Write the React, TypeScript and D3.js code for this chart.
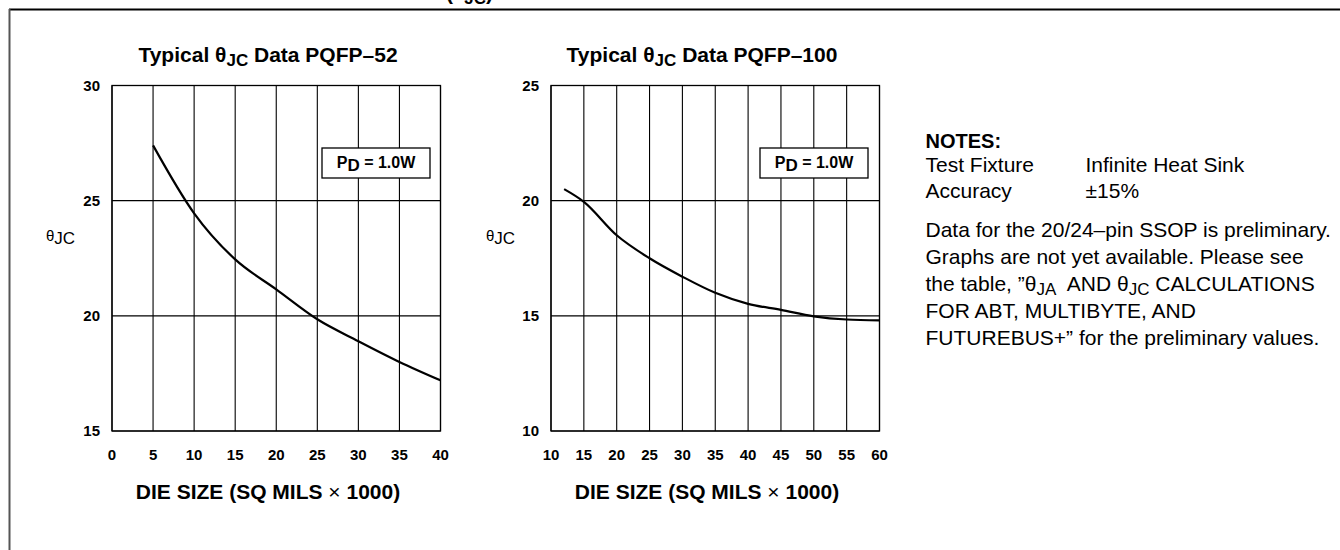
import React, { useRef, useEffect } from 'react';
import * as d3 from 'd3';

// PQFP-52 chart
const die52 = [5, 10, 15, 20, 25, 30, 35, 40];
const theta52 = [27.4, 24.45, 22.45, 21.15, 19.85, 18.9, 18.0, 17.2];
const xTicks52 = [0, 5, 10, 15, 20, 25, 30, 35, 40];
const yTicks52 = [15, 20, 25, 30];

// PQFP-100 chart
const die100 = [12, 15, 20, 25, 30, 35, 40, 45, 50, 55, 60];
const theta100 = [20.5, 19.95, 18.5, 17.5, 16.7, 16.0, 15.52, 15.26, 14.98, 14.84, 14.8];
const xTicks100 = [10, 15, 20, 25, 30, 35, 40, 45, 50, 55, 60];
const yTicks100 = [10, 15, 20, 25];

const noteRows = [
  ['Test Fixture', 'Infinite Heat Sink'],
  ['Accuracy', '\u00b115%'],
];

const FONT = '"Liberation Sans", Arial, Helvetica, sans-serif';

interface PanelSpec {
  title: string;
  titleX: number;
  xs: number[];
  ys: number[];
  xTicks: number[];
  yTicks: number[];
  left: number;
  right: number;
  boxX: number;
  labelX: number;
  axisTitleX: number;
}

const App: React.FC = () => {
  const svgRef = useRef<SVGSVGElement>(null);

  useEffect(() => {
    if (!svgRef.current) return;
    const svg = d3.select(svgRef.current);
    svg.selectAll('*').remove();

    // page frame
    svg.append('line').attr('x1', 9).attr('y1', 9.5).attr('x2', 1340).attr('y2', 9.5)
      .attr('stroke', '#000').attr('stroke-width', 2);
    svg.append('line').attr('x1', 9.5).attr('y1', 9).attr('x2', 9.5).attr('y2', 550)
      .attr('stroke', '#555').attr('stroke-width', 2);

    // heading at the top edge (cut off in the source page)
    const head = svg.append('text').attr('x', 446).attr('y', 0)
      .attr('font-family', FONT).attr('font-weight', 'bold').attr('font-size', 21);
    head.append('tspan').text('(\u03b8');
    head.append('tspan').attr('dy', 4).attr('font-size', 17).text('JC');
    head.append('tspan').attr('dy', -4).text(')');

    const top = 85.5;
    const bottom = 431;

    const panels: PanelSpec[] = [
      {
        title: 'PQFP\u201352', titleX: 268, xs: die52, ys: theta52, xTicks: xTicks52, yTicks: yTicks52,
        left: 112, right: 440.5, boxX: 322, labelX: 46, axisTitleX: 268,
      },
      {
        title: 'PQFP\u2013100', titleX: 702, xs: die100, ys: theta100, xTicks: xTicks100, yTicks: yTicks100,
        left: 551, right: 879.5, boxX: 760, labelX: 486, axisTitleX: 707,
      },
    ];

    panels.forEach((p) => {
      const x = d3.scaleLinear().domain(d3.extent(p.xTicks) as [number, number]).range([p.left, p.right]);
      const y = d3.scaleLinear().domain(d3.extent(p.yTicks) as [number, number]).range([bottom, top]);
      const g = svg.append('g');

      // grid
      p.xTicks.forEach((t) => {
        g.append('line').attr('x1', x(t)).attr('x2', x(t)).attr('y1', top).attr('y2', bottom)
          .attr('stroke', '#000').attr('stroke-width', 1.1);
      });
      p.yTicks.forEach((t) => {
        g.append('line').attr('x1', p.left).attr('x2', p.right).attr('y1', y(t)).attr('y2', y(t))
          .attr('stroke', '#000').attr('stroke-width', 1.1);
      });
      g.append('rect').attr('x', p.left).attr('y', top).attr('width', p.right - p.left)
        .attr('height', bottom - top).attr('fill', 'none').attr('stroke', '#000').attr('stroke-width', 1.3);

      // tick labels
      p.yTicks.forEach((t) => {
        g.append('text').attr('x', p.left - 12).attr('y', y(t)).attr('dy', '0.35em')
          .attr('text-anchor', 'end').attr('font-family', FONT).attr('font-weight', 'bold')
          .attr('font-size', 15).text(t);
      });
      p.xTicks.forEach((t) => {
        g.append('text').attr('x', x(t)).attr('y', 459.5).attr('text-anchor', 'middle')
          .attr('font-family', FONT).attr('font-weight', 'bold').attr('font-size', 15).text(t);
      });

      // title
      const title = g.append('text').attr('x', p.titleX).attr('y', 62).attr('text-anchor', 'middle')
        .attr('font-family', FONT).attr('font-weight', 'bold').attr('font-size', 21);
      title.append('tspan').text('Typical \u03b8');
      title.append('tspan').attr('dy', 4).attr('font-size', 17).text('JC');
      title.append('tspan').attr('dy', -4).text(` Data ${p.title}`);

      // y label
      const yl = g.append('text').attr('x', p.labelX).attr('y', 241)
        .attr('font-family', FONT).attr('font-size', 17);
      yl.append('tspan').attr('font-size', 15).text('\u03b8');
      yl.append('tspan').attr('dy', 3).text('JC');

      // x axis title
      const xt = g.append('text').attr('x', p.axisTitleX).attr('y', 499).attr('text-anchor', 'middle')
        .attr('font-family', FONT).attr('font-weight', 'bold').attr('font-size', 21);
      xt.append('tspan').text('DIE SIZE (SQ MILS ');
      xt.append('tspan').attr('font-weight', 'normal').text('\u00d7');
      xt.append('tspan').text(' 1000)');

      // PD box
      g.append('rect').attr('x', p.boxX).attr('y', 148).attr('width', 108).attr('height', 30)
        .attr('fill', '#fff').attr('stroke', '#000').attr('stroke-width', 1.3);
      const pd = g.append('text').attr('x', p.boxX + 54).attr('y', 168).attr('text-anchor', 'middle')
        .attr('font-family', FONT).attr('font-weight', 'bold').attr('font-size', 16);
      pd.append('tspan').text('P');
      pd.append('tspan').attr('dy', 3).attr('font-size', 17).text('D');
      pd.append('tspan').attr('dy', -3).text(' = 1.0W');

      // curve
      const line = d3.line<number>()
        .x((_, i) => x(p.xs[i]))
        .y((d) => y(d))
        .curve(d3.curveMonotoneX);
      g.append('path').datum(p.ys).attr('d', line).attr('fill', 'none')
        .attr('stroke', '#000').attr('stroke-width', 2.2);
    });

    // notes
    const nx = 925.5;
    svg.append('text').attr('x', nx).attr('y', 148).attr('font-family', FONT)
      .attr('font-weight', 'bold').attr('font-size', 20).text('NOTES:');
    noteRows.forEach((r, i) => {
      svg.append('text').attr('x', nx).attr('y', 172 + i * 26).attr('font-family', FONT)
        .attr('font-size', 21).text(r[0]);
      svg.append('text').attr('x', 1085.5).attr('y', 172 + i * 26).attr('font-family', FONT)
        .attr('font-size', 21).text(r[1]);
    });

    const para = svg.append('g').attr('font-family', FONT).attr('font-size', 21);
    para.append('text').attr('x', nx).attr('y', 237).text('Data for the 20/24\u2013pin SSOP is preliminary.');
    para.append('text').attr('x', nx).attr('y', 264).text('Graphs are not yet available. Please see');
    const l3 = para.append('text').attr('x', nx).attr('y', 291);
    l3.append('tspan').text('the table, \u201d\u03b8');
    l3.append('tspan').attr('dy', 4).attr('font-size', 17).text('JA');
    l3.append('tspan').attr('dy', -4).text('\u00a0 AND \u03b8');
    l3.append('tspan').attr('dy', 4).attr('font-size', 17).text('JC');
    l3.append('tspan').attr('dy', -4).text(' CALCULATIONS');
    para.append('text').attr('x', nx).attr('y', 318).text('FOR ABT, MULTIBYTE, AND');
    para.append('text').attr('x', nx).attr('y', 345).text('FUTUREBUS+\u201d for the preliminary values.');
  }, []);

  return (
    <svg
      ref={svgRef}
      width={1340}
      height={550}
      style={{ position: 'absolute', left: 0, top: 0, background: '#fff' }}
    />
  );
};

export default App;
